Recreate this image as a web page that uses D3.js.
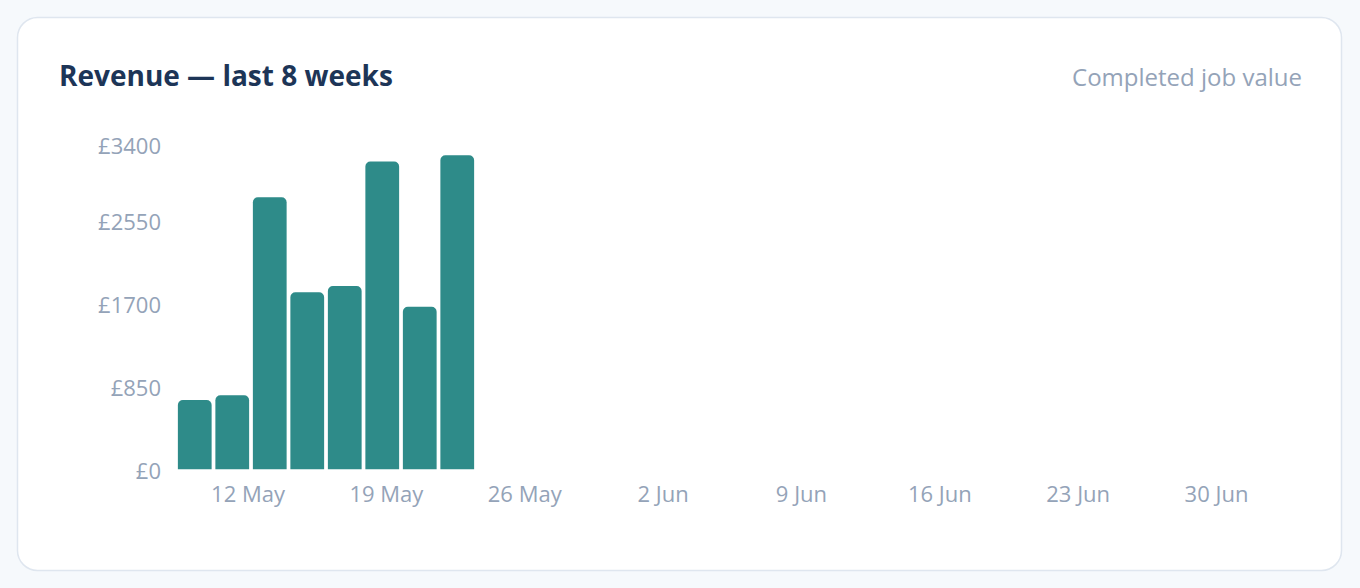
<!DOCTYPE html>
<html>
<head>
<meta charset="utf-8">
<script src="https://cdn.jsdelivr.net/npm/d3@7"></script>
<style>
  html, body { margin: 0; padding: 0; background: #f6f9fc; }
  svg { display: block; font-family: "Open Sans", "Noto Sans", sans-serif; }
</style>
</head>
<body>
<div id="chart"></div>
<script>
// weekly revenue (GBP), last 8 weeks
const weeks = ['w1', 'w2', 'w3', 'w4', 'w5', 'w6', 'w7', 'w8'];
const revenue = [707, 755, 2776, 1806, 1870, 3139, 1659, 3204];
const yTicks = [0, 850, 1700, 2550, 3400];
const xTickDates = ['2025-05-12', '2025-05-19', '2025-05-26', '2025-06-02',
                    '2025-06-09', '2025-06-16', '2025-06-23', '2025-06-30'];
const xDomain = ['2025-05-08T09:10', '2025-07-04T06:00'];

const width = 1360, height = 588;
const plotLeft = 176, plotRight = 1300, plotTop = 136, plotBottom = 469.3;

const parse = d3.isoParse;

let svg = d3.select('#chart')
            .append('svg')
            .attr('width', width)
            .attr('height', height);

// card
svg.append('rect')
   .attr('x', 17.5).attr('y', 17.5)
   .attr('width', 1324).attr('height', 553)
   .attr('rx', 20)
   .attr('fill', '#ffffff')
   .attr('stroke', '#dfe6ef')
   .attr('stroke-width', 1.5);

svg.append('text')
   .attr('x', 59).attr('y', 86)
   .attr('fill', '#1d3557')
   .attr('font-size', 28)
   .attr('font-weight', 700)
   .text('Revenue — last 8 weeks');

svg.append('text')
   .attr('x', 1302).attr('y', 86)
   .attr('text-anchor', 'end')
   .attr('fill', '#94a3b8')
   .attr('font-size', 24)
   .text('Completed job value');

let x = d3.scaleTime()
          .domain(xDomain.map(parse))
          .range([plotLeft, plotRight]);

let xBand = d3.scaleBand()
              .domain(weeks)
              .range([plotLeft, plotLeft + 300])
              .paddingInner(0.1)
              .paddingOuter(0.05);

let y = d3.scaleLinear()
          .domain([0, 3400])
          .range([plotBottom, plotTop]);

// bars with rounded tops
function barPath(x0, y0, w, h, r) {
  r = Math.min(r, w / 2, h);
  return 'M' + x0 + ',' + (y0 + h) +
         'V' + (y0 + r) +
         'A' + r + ',' + r + ' 0 0 1 ' + (x0 + r) + ',' + y0 +
         'H' + (x0 + w - r) +
         'A' + r + ',' + r + ' 0 0 1 ' + (x0 + w) + ',' + (y0 + r) +
         'V' + (y0 + h) + 'Z';
}

svg.append('g')
   .selectAll('path')
   .data(revenue)
   .join('path')
     .attr('fill', '#2e8b89')
     .attr('d', (d, i) => barPath(xBand(weeks[i]), y(d), xBand.bandwidth(), y(0) - y(d), 5));

let xAxis = svg.append('g')
               .attr('transform', 'translate(0,' + plotBottom + ')')
               .call(d3.axisBottom(x)
                       .tickValues(xTickDates.map(parse))
                       .tickFormat(d3.timeFormat('%-d %b'))
                       .tickSize(0)
                       .tickPadding(17));
xAxis.select('.domain').remove();
xAxis.selectAll('text')
     .attr('fill', '#94a3b8')
     .attr('font-size', 22)
     .attr('font-family', '"Open Sans", sans-serif');

let yAxis = svg.append('g')
               .attr('transform', 'translate(' + plotLeft + ',0)')
               .call(d3.axisLeft(y)
                       .tickValues(yTicks)
                       .tickFormat(d => '£' + d)
                       .tickSize(0)
                       .tickPadding(15));
yAxis.select('.domain').remove();
// keep the top label inside the plot, as the original does
yAxis.selectAll('text')
     .attr('fill', '#94a3b8')
     .attr('font-size', 22)
     .attr('font-family', '"Open Sans", sans-serif')
     .attr('dy', '0.44em')
     .attr('y', d => Math.max(0, plotTop + 8 - y(d)));
</script>
</body>
</html>
